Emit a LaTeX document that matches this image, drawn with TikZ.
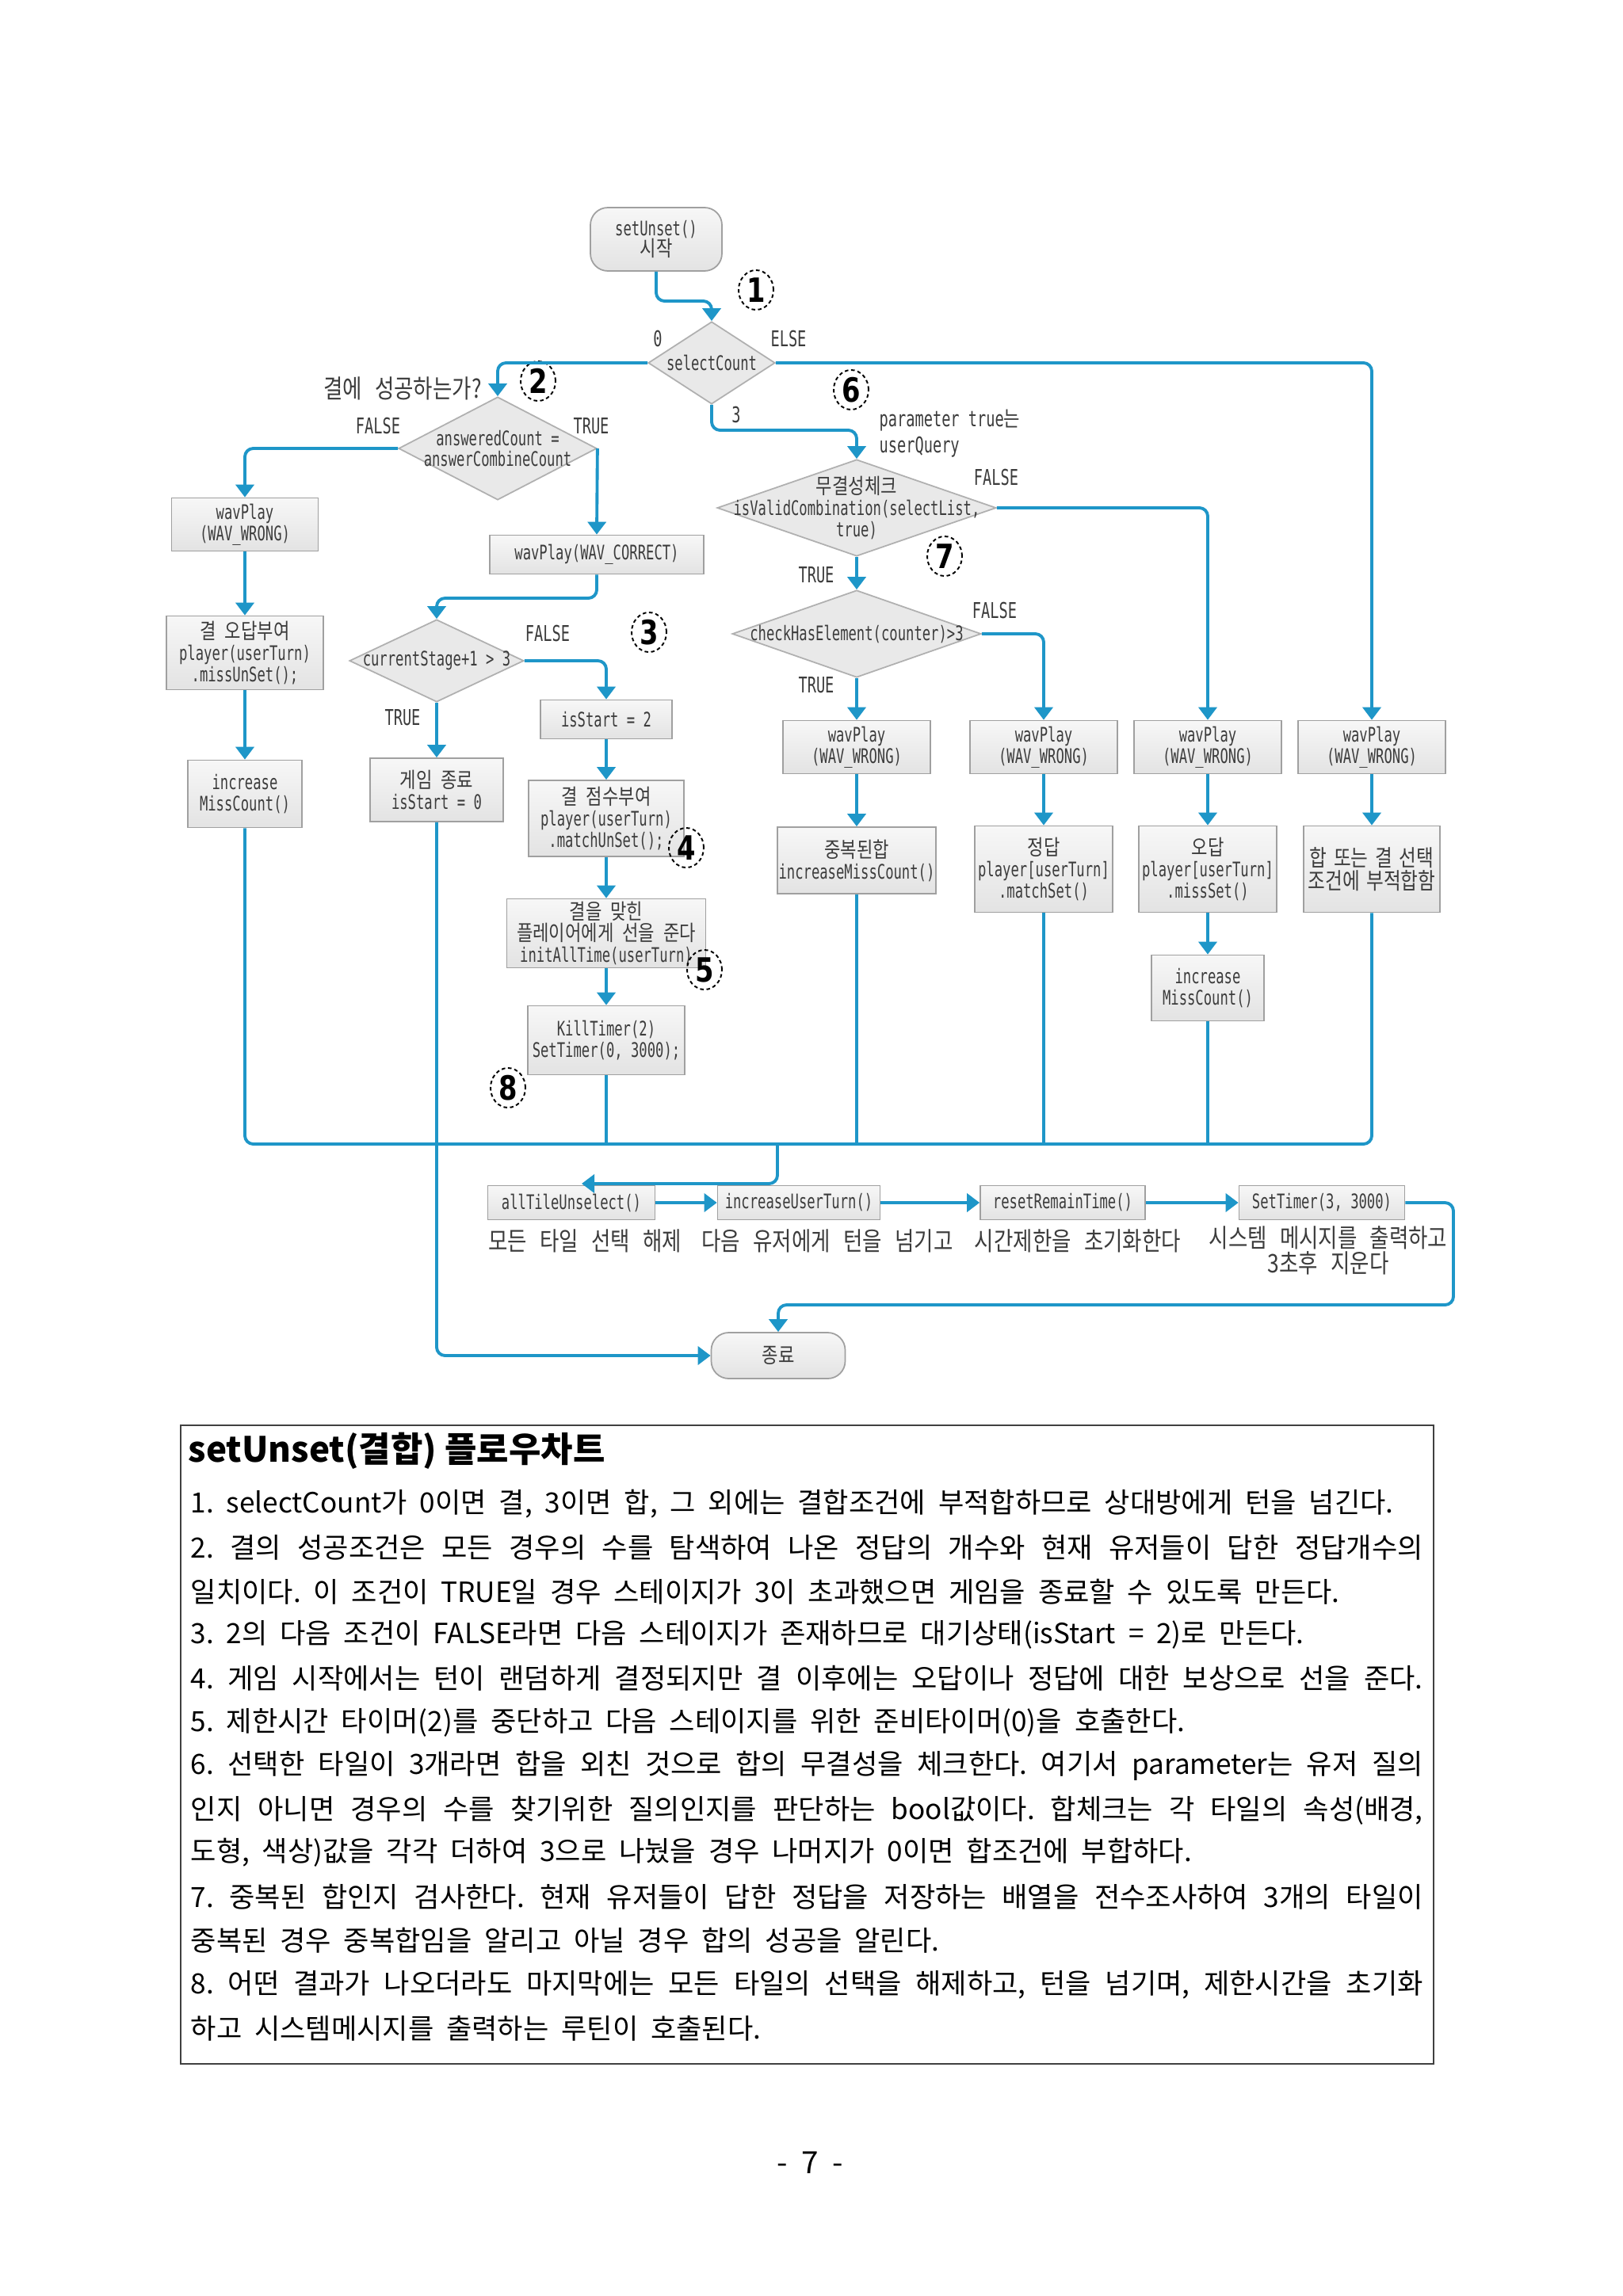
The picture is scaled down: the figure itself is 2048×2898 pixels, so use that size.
\documentclass[tikz,border=0pt]{standalone}
\usepackage{fontspec}
\setmainfont{Noto Sans CJK KR}
\newfontfamily\dmono[FakeStretch=0.68]{DejaVu Sans Mono}
\newfontfamily\dkor[FakeStretch=0.82]{Noto Sans CJK KR}
\newfontfamily\dnum[FakeStretch=0.8]{DejaVu Sans}
\usetikzlibrary{arrows.meta,shapes.geometric}
\definecolor{lblue}{HTML}{1E96C8}
\definecolor{boxline}{HTML}{A0A0A0}
\definecolor{boxtop}{HTML}{F7F7F7}
\definecolor{boxbot}{HTML}{E3E3E3}
\definecolor{dialine}{HTML}{B0B0B0}
\definecolor{diafill}{HTML}{E9E9E9}
\definecolor{dtext}{HTML}{3C3C3C}
\newcommand\dfont{\dmono\fontsize{7.2}{7.6}\selectfont}
\newcommand\lfont{\dmono\fontsize{7.8}{9.4}\selectfont}
\newcommand\kfont{\dkor\fontsize{9.2}{9.2}\selectfont\spaceskip=0.5em plus 0.2em\relax}
\newcommand\nfont{\dnum\bfseries\fontsize{12}{12}\selectfont}
\newcommand\bodysize{\fontsize{10}{12}\selectfont\frenchspacing\spaceskip=0.45em plus 0.4em minus 0.25em\xspaceskip=\spaceskip\relax}
\newcommand\hk[1]{{\dkor\fontsize{7.7}{7.6}\selectfont\spaceskip=0.4em\relax #1}}
\newcommand\hkb[1]{{\dkor\fontsize{8.2}{7.6}\selectfont\spaceskip=0.3em\relax #1}}
\tikzset{
 box/.style={draw=boxline, line width=0.5pt, top color=boxtop, bottom color=boxbot, inner sep=0pt, align=center, font=\dfont, text=dtext},
 rbox/.style={box, rounded corners=2.2mm},
 dia/.style={diamond, draw=dialine, line width=0.5pt, fill=diafill, inner sep=0pt},
 dtxt/.style={inner sep=0pt, align=center, font=\dfont, text=dtext},
 lab/.style={inner sep=0pt, font=\lfont, text=dtext},
 klab/.style={inner sep=0pt, align=center, font=\kfont, text=dtext},
 num/.style={ellipse, draw=black, line width=0.55pt, dash pattern=on 1.3pt off 1pt, minimum width=4.4mm, minimum height=5mm, inner sep=0pt, font=\nfont},
 conn/.style={draw=lblue, line width=1.1pt, rounded corners=3pt},
 arr/.style={conn, -{Triangle[width=2.3mm,length=1.6mm]}},
 bline/.style={anchor=west, inner sep=0pt, font=\bodysize},
}
\begin{document}
\begin{tikzpicture}[x=0.1mm,y=-0.1mm]
\fill[white] (0,0) rectangle (2048,2898);
\useasboundingbox (0,0) rectangle (2048,2898);

% ---------- nodes: left/center ----------
\node[rbox, minimum width=16.6mm, minimum height=8mm] (start) at (828,302) {setUnset()\\\hk{시작}};
\node[dia, minimum width=16mm, minimum height=10.4mm] (dsel) at (898,458) {};
\node[dtxt] (dselT) at (dsel) {selectCount};
\node[lab] (l0) at (830,428) {0};
\node[lab] (lelse) at (995,428) {ELSE};
\node[lab] (l3) at (929,524) {3};
\node[num] (n1) at (954,366) {1};

\node[klab] (q2) at (508,490) {결에 성공하는가?};
\node[num] (n2) at (679,481) {2};
\node[dia, minimum width=25mm, minimum height=13mm] (dans) at (628,566) {};
\node[dtxt] (dansT) at (dans) {answeredCount =\\answerCombineCount};
\node[lab] (lf1) at (477,538) {FALSE};
\node[lab] (lt1) at (746,538) {TRUE};

\node[box, minimum width=18.5mm, minimum height=6.7mm] (w1) at (309,662) {wavPlay\\(WAV\_WRONG)};
\node[box, minimum width=19.8mm, minimum height=9.3mm] (miss1) at (309,824) {\hk{결 오답부여}\\player(userTurn)\\.missUnSet();};
\node[box, minimum width=14.4mm, minimum height=8.5mm] (inc1) at (309,1002) {increase\\MissCount()};

\node[box, minimum width=27mm, minimum height=4.9mm] (wc) at (753,700) {wavPlay(WAV\_CORRECT)};
\node[dia, minimum width=22mm, minimum height=10.4mm] (dcur) at (551,834) {};
\node[dtxt] (dcurT) at (dcur) {currentStage+1 > 3};
\node[lab] (lf2) at (691,800) {FALSE};
\node[num] (n3) at (819,798) {3};
\node[lab] (lt2) at (508,906) {TRUE};

\node[box, minimum width=16.6mm, minimum height=4.9mm] (is2) at (765,908) {isStart = 2};
\node[box, minimum width=19.6mm, minimum height=9.6mm] (sc) at (765,1033) {\hk{결 점수부여}\\player(userTurn)\\.matchUnSet();};
\node[num] (n4) at (866,1070) {4};
\node[box, minimum width=25.1mm, minimum height=8.7mm] (fa) at (765,1178) {\hk{결을 맞힌}\\\hk{플레이어에게 선을 준다}\\initAllTime(userTurn)};
\node[num] (n5) at (889,1224) {5};
\node[box, minimum width=19.8mm, minimum height=8.7mm] (kt) at (765,1313) {KillTimer(2)\\SetTimer(0, 3000);};
\node[num] (n8) at (641,1373) {8};
\node[box, minimum width=16.8mm, minimum height=8mm] (go) at (551,997) {\hk{게임 종료}\\isStart = 0};

% ---------- nodes: right ----------
\node[num] (n6) at (1074,492) {6};
\node[lab, align=left, anchor=west] (lpar) at (1109,547) {parameter true\hk{는}\\userQuery};
\node[dia, minimum width=35.2mm, minimum height=12.2mm] (dval) at (1081,641) {};
\node[dtxt] (dvalT) at (dval) {\hk{무결성체크}\\isValidCombination(selectList,\\true)};
\node[lab] (lf3) at (1257,603) {FALSE};
\node[lab] (lt3) at (1030,726) {TRUE};
\node[num] (n7) at (1192,702) {7};
\node[dia, minimum width=31.4mm, minimum height=11mm] (dchk) at (1081,800) {};
\node[dtxt] (dchkT) at (dchk) {checkHasElement(counter)>3};
\node[lab] (lf4) at (1255,771) {FALSE};
\node[lab] (lt4) at (1030,865) {TRUE};

\node[box, minimum width=18.6mm, minimum height=6.7mm] (wA) at (1081,943) {wavPlay\\(WAV\_WRONG)};
\node[box, minimum width=18.6mm, minimum height=6.7mm] (wB) at (1317,943) {wavPlay\\(WAV\_WRONG)};
\node[box, minimum width=18.6mm, minimum height=6.7mm] (wC) at (1524,943) {wavPlay\\(WAV\_WRONG)};
\node[box, minimum width=18.6mm, minimum height=6.7mm] (wD) at (1731,943) {wavPlay\\(WAV\_WRONG)};
\node[box, minimum width=20mm, minimum height=8.4mm] (dup) at (1081,1086) {\hk{중복된합}\\increaseMissCount()};
\node[box, minimum width=17.4mm, minimum height=10.9mm] (ok) at (1317,1097) {\hk{정답}\\player[userTurn]\\.matchSet()};
\node[box, minimum width=17.4mm, minimum height=10.9mm] (ng) at (1524,1097) {\hk{오답}\\player[userTurn]\\.missSet()};
\node[box, minimum width=17.2mm, minimum height=10.9mm] (bad) at (1731,1097) {\hkb{합 또는 결 선택}\\[0.3mm]\hkb{조건에 부적합함}};
\node[box, minimum width=14.2mm, minimum height=8.3mm] (inc2) at (1524,1247) {increase\\MissCount()};

% ---------- bottom row ----------
\node[box, minimum width=21.1mm, minimum height=4.3mm] (at) at (721,1518) {allTileUnselect()};
\node[box, minimum width=20.5mm, minimum height=4.3mm] (iu) at (1008,1518) {increaseUserTurn()};
\node[box, minimum width=20.8mm, minimum height=4.3mm] (rr) at (1341,1518) {resetRemainTime()};
\node[box, minimum width=20.9mm, minimum height=4.3mm] (st) at (1668,1518) {SetTimer(3, 3000)};
\node[klab] (b1) at (738,1566) {모든 타일 선택 해제};
\node[klab] (b2) at (1044,1566) {다음 유저에게 턴을 넘기고};
\node[klab] (b3) at (1360,1566) {시간제한을 초기화한다};
\node[klab] (b4) at (1676,1578) {시스템 메시지를 출력하고\\3초후 지운다};
\node[rbox, minimum width=16.9mm, minimum height=5.8mm] (end) at (982,1711) {\hk{종료}};

% ---------- connectors ----------
\coordinate (c1) at (828,380);
\draw[arr] (start.south) -- (c1) -| (dsel.north);
\draw[arr] (dsel.west) -| (dans.north);
\draw[arr] (dans.west) -| (w1.north);
\draw[arr] (w1.south) -- (miss1.north);
\draw[arr] (miss1.south) -- (inc1.north);
\draw[arr] (dans.east) -- (wc.north);
\coordinate (c2) at (753,755);
\draw[arr] (wc.south) -- (c2) -| (dcur.north);
\draw[arr] (dcur.east) -| (is2.north);
\draw[arr] (is2.south) -- (sc.north);
\draw[arr] (sc.south) -- (fa.north);
\draw[arr] (fa.south) -- (kt.north);
\draw[arr] (dcur.south) -- (go.north);
\draw[arr] (go.south) |- (end.west);

\draw[arr] (dsel.east) -| (wD.north);
\coordinate (c3) at (898,543);
\draw[arr] (dsel.south) -- (c3) -| (dval.north);
\draw[arr] (dval.east) -| (wC.north);
\draw[arr] (dval.south) -- (dchk.north);
\draw[arr] (dchk.east) -| (wB.north);
\draw[arr] (dchk.south) -- (wA.north);
\draw[arr] (wA.south) -- (dup.north);
\draw[arr] (wB.south) -- (ok.north);
\draw[arr] (wC.south) -- (ng.north);
\draw[arr] (wD.south) -- (bad.north);
\draw[arr] (ng.south) -- (inc2.north);

\coordinate (bus) at (0,1444);
\draw[conn] (inc1.south) -- (inc1.south |- bus) -- (bad.south |- bus) -- (bad.south);
\draw[conn] (kt.south) -- (kt.south |- bus);
\draw[conn] (dup.south) -- (dup.south |- bus);
\draw[conn] (ok.south) -- (ok.south |- bus);
\draw[conn] (inc2.south) -- (inc2.south |- bus);
\coordinate (busj) at (981,1444);
\coordinate (atip) at (734,1494);
\draw[arr] (busj) |- (atip);

\draw[arr] (at.east) -- (iu.west);
\draw[arr] (iu.east) -- (rr.west);
\draw[arr] (rr.east) -- (st.west);
\coordinate (rt) at (1834,1647);
\draw[arr] (st.east) -| (rt) -| (end.north);

% ---------- text box ----------
\node[draw=black!75, line width=0.6pt, minimum width=158.1mm, minimum height=80.6mm, inner sep=0pt, anchor=north west] (tbox) at (227,1798) {};
\node[anchor=west, inner sep=0pt, font=\bfseries\fontsize{12.5}{14}\selectfont] (title) at (237,1831) {setUnset(결합) 플로우차트};
\node[bline] (t1) at (240,1898) {1. selectCount가 0이면 결, 3이면 합, 그 외에는 결합조건에 부적합하므로 상대방에게 턴을 넘긴다.};
\node[bline] (t2) at (240,1953) {\hbox to 155.5mm{2. 결의 성공조건은 모든 경우의 수를 탐색하여 나온 정답의 개수와 현재 유저들이 답한 정답개수의}};
\node[bline] (t3) at (240,2009) {일치이다. 이 조건이 TRUE일 경우 스테이지가 3이 초과했으면 게임을 종료할 수 있도록 만든다.};
\node[bline] (t4) at (240,2063) {3. 2의 다음 조건이 FALSE라면 다음 스테이지가 존재하므로 대기상태(isStart = 2)로 만든다.};
\node[bline] (t5) at (240,2118) {\hbox to 155.5mm{4. 게임 시작에서는 턴이 랜덤하게 결정되지만 결 이후에는 오답이나 정답에 대한 보상으로 선을 준다.}};
\node[bline] (t6) at (240,2174) {5. 제한시간 타이머(2)를 중단하고 다음 스테이지를 위한 준비타이머(0)을 호출한다.};
\node[bline] (t7) at (240,2229) {\hbox to 155.5mm{6. 선택한 타일이 3개라면 합을 외친 것으로 합의 무결성을 체크한다. 여기서 parameter는 유저 질의}};
\node[bline] (t8) at (240,2285) {\hbox to 155.5mm{인지 아니면 경우의 수를 찾기위한 질의인지를 판단하는 bool값이다. 합체크는 각 타일의 속성(배경,}};
\node[bline] (t9) at (240,2338) {도형, 색상)값을 각각 더하여 3으로 나눴을 경우 나머지가 0이면 합조건에 부합하다.};
\node[bline] (t10) at (240,2394) {\hbox to 155.5mm{7. 중복된 합인지 검사한다. 현재 유저들이 답한 정답을 저장하는 배열을 전수조사하여 3개의 타일이}};
\node[bline] (t11) at (240,2449) {중복된 경우 중복합임을 알리고 아닐 경우 합의 성공을 알린다.};
\node[bline] (t12) at (240,2505) {\hbox to 155.5mm{8. 어떤 결과가 나오더라도 마지막에는 모든 타일의 선택을 해제하고, 턴을 넘기며, 제한시간을 초기화}};
\node[bline] (t13) at (240,2560) {하고 시스템메시지를 출력하는 루틴이 호출된다.};
\node[inner sep=0pt, font=\fontsize{11}{12}\selectfont] (pg) at (1022,2730) {-\hspace{0.45em}7\hspace{0.45em}-};
\end{tikzpicture}
\end{document}
